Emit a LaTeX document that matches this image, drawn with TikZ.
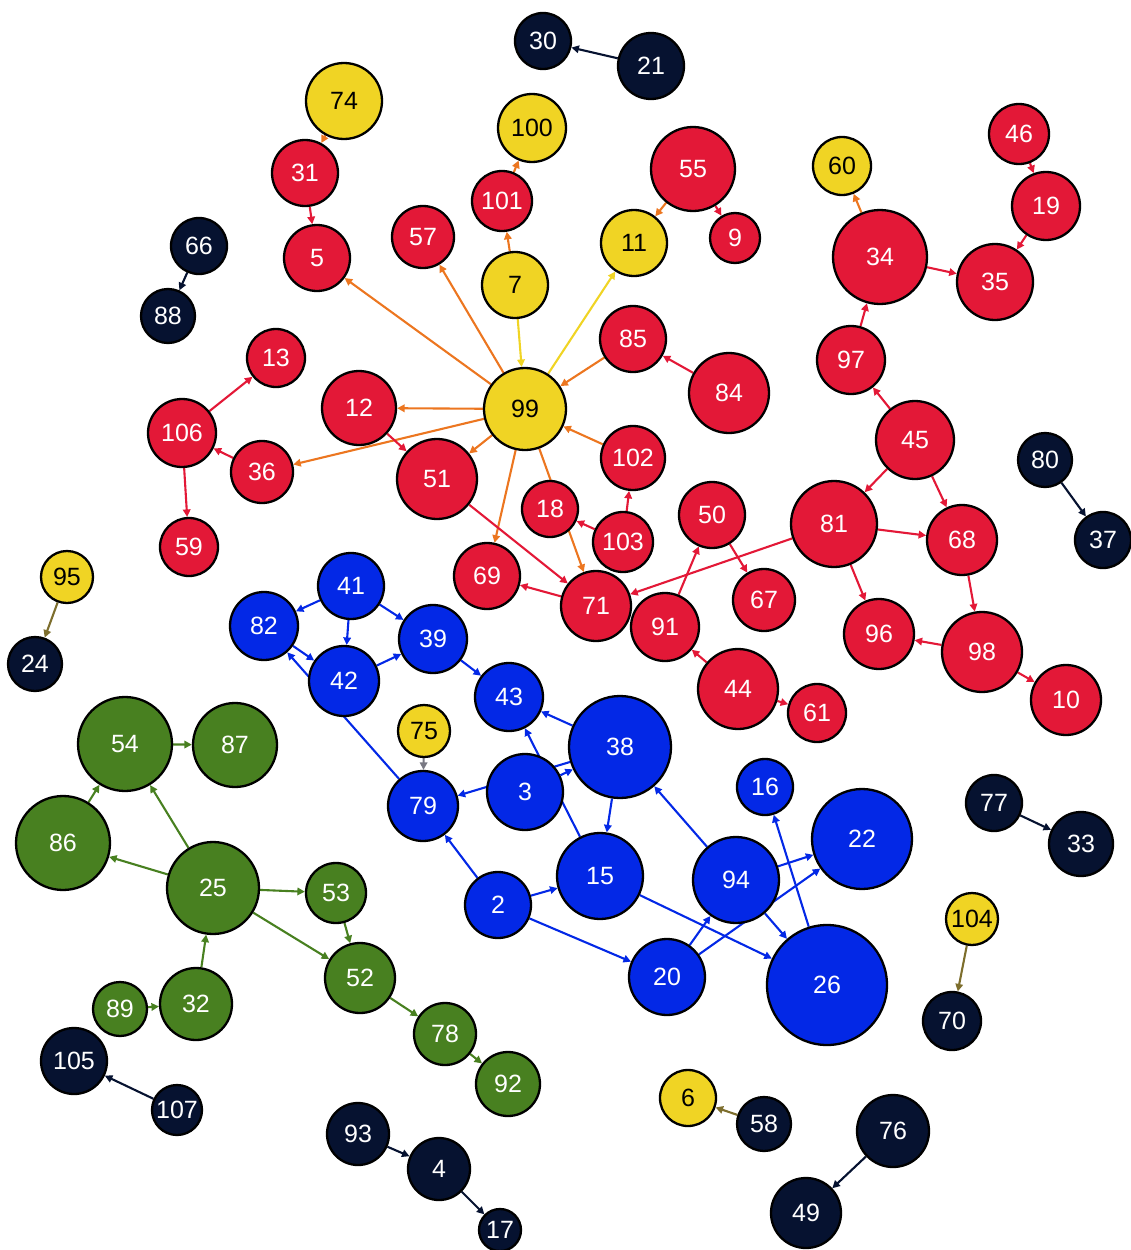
\documentclass[tikz,border=0pt]{standalone}
\usepackage{fontspec}
\setmainfont{Liberation Sans}
\usetikzlibrary{arrows.meta}
\pgfdeclarelayer{bg}
\pgfsetlayers{bg,main}
\definecolor{cred}{RGB}{227,24,55}
\definecolor{cyel}{RGB}{240,212,36}
\definecolor{cblue}{RGB}{3,40,230}
\definecolor{cgreen}{RGB}{72,128,32}
\definecolor{cnavy}{RGB}{6,18,48}
\definecolor{eorange}{RGB}{236,118,32}
\definecolor{eolive}{RGB}{125,110,45}
\definecolor{egray}{RGB}{120,120,130}
\tikzset{
  nd/.style={circle, draw=black, line width=2.3pt, inner sep=0pt, font=\fontsize{25}{25}\selectfont},
  R/.style={nd, fill=cred, text=white},
  Y/.style={nd, fill=cyel, text=black},
  B/.style={nd, fill=cblue, text=white},
  G/.style={nd, fill=cgreen, text=white},
  K/.style={nd, fill=cnavy, text=white},
  edge/.style={line width=2.1pt, -{Triangle[length=7.5pt,width=7.5pt]}},
}
\begin{document}
\begin{tikzpicture}[x=1pt,y=-1pt]
\useasboundingbox (0,0) rectangle (1131,1250);
\foreach \n/\x/\y/\r/\s in {
30/543/41/28/K, 21/651/66/33/K, 74/344/101/38/Y, 100/532/128/34/Y, 55/693/169/42/R,
46/1019/134/30/R, 60/842/166/29/Y, 31/305/173/33/R, 101/502/201/30/R, 19/1046/206/34/R,
57/423/237/31/R, 9/735/238/25/R, 11/634/243/33/Y, 66/199/246/28/K, 5/317/258/33/R,
34/880/257/47/R, 35/995/282/38/R, 7/515/285/33/Y, 88/168/316/27/K, 85/633/339/33/R,
97/851/360/34/R, 13/276/358/29/R, 84/729/393/40/R, 12/359/408/37/R, 99/525/409/41/Y,
106/182/433/34/R, 45/915/440/39/R, 80/1045/460/27/K, 102/633/458/32/R, 36/262/472/31/R,
51/437/479/40/R, 18/550/509/28/R, 50/712/515/33/R, 81/834/524/43/R, 103/623/542/30/R,
68/962/540/35/R, 37/1103/540/28/K, 59/189/547/29/R, 69/487/576/33/R, 95/67/577/26/Y,
41/351/586/33/B, 71/596/606/35/R, 67/764/600/31/R, 91/665/627/34/R, 82/264/626/34/B,
96/879/634/35/R, 39/433/639/34/B, 98/982/652/40/R, 42/344/681/35/B, 24/35/664/27/K,
44/738/689/40/R, 43/509/697/34/B, 10/1066/700/35/R, 61/817/713/29/R, 75/424/731/26/Y,
54/125/744/47/G, 87/235/745/42/G, 38/620/747/51/B, 16/765/787/28/B, 3/525/792/38/B,
79/423/806/35/B, 77/994/803/28/K, 22/862/839/50/B, 86/63/843/47/G, 33/1081/844/32/K,
15/600/876/43/B, 94/736/880/43/B, 25/213/888/46/G, 53/336/893/30/G, 2/498/905/33/B,
104/972/919/26/Y, 20/667/977/38/B, 52/360/978/35/G, 26/827/985/60/B, 32/196/1004/36/G,
89/120/1009/27/G, 70/952/1021/29/K, 78/445/1034/31/G, 105/74/1061/33/K, 92/508/1084/32/G,
6/688/1098/28/Y, 107/177/1110/25/K, 58/764/1124/27/K, 76/893/1131/36/K, 93/358/1134/31/K,
4/439/1169/31/K, 49/806/1213/35/K, 17/500/1230/21/K}
  \node[\s, minimum size={(2*\r)*1pt}] (n\n) at (\x,\y) {\n};
\begin{pgfonlayer}{bg}
\foreach \a/\b in {74/31, 101/100, 7/101, 55/11, 34/60, 99/5, 99/57, 99/12, 99/36, 99/51, 99/69, 99/71, 85/99, 102/99}
  \draw[edge, eorange] (n\a) -- (n\b);
\foreach \a/\b in {7/99, 99/11}
  \draw[edge, cyel] (n\a) -- (n\b);
\foreach \a/\b in {31/5, 55/9, 46/19, 19/35, 34/35, 97/34, 45/97, 45/81, 45/68, 81/68, 81/71, 81/96, 68/98, 98/96, 98/10, 44/91, 44/61, 91/50, 50/67, 103/18, 103/102, 84/85, 12/51, 51/71, 71/69, 106/13, 36/106, 106/59}
  \draw[edge, cred] (n\a) -- (n\b);
\foreach \a/\b in {41/82, 41/42, 41/39, 82/42, 79/82, 42/39, 39/43, 38/43, 3/38, 15/43, 38/79, 2/79, 2/15, 2/20, 38/15, 94/38, 94/22, 94/26, 20/94, 20/22, 15/26, 26/16}
  \draw[edge, cblue] (n\a) -- (n\b);
\foreach \a/\b in {54/87, 86/54, 25/54, 25/86, 25/53, 25/52, 53/52, 52/78, 78/92, 32/25, 89/32}
  \draw[edge, cgreen] (n\a) -- (n\b);
\foreach \a/\b in {21/30, 66/88, 80/37, 77/33, 107/105, 93/4, 4/17, 76/49}
  \draw[edge, cnavy] (n\a) -- (n\b);
\foreach \a/\b in {95/24, 104/70, 58/6}
  \draw[edge, eolive] (n\a) -- (n\b);
\draw[edge, egray] (n75) -- (n79);
\end{pgfonlayer}
\end{tikzpicture}
\end{document}
